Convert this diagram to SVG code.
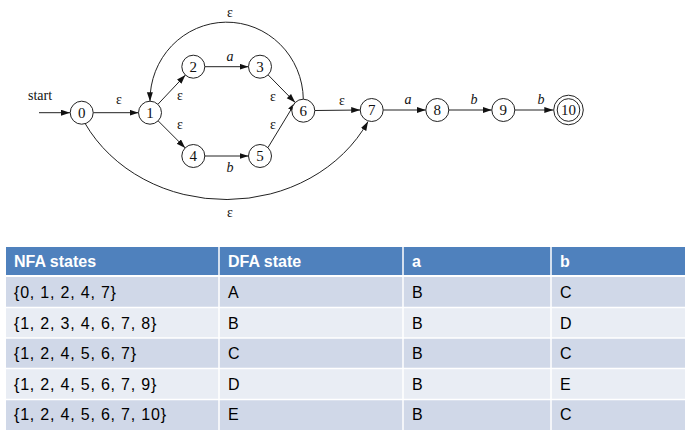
<svg xmlns="http://www.w3.org/2000/svg" width="691" height="441" viewBox="0 0 691 441">
<style>
.n{fill:#fff;stroke:#222;stroke-width:1}
.e{fill:none;stroke:#222;stroke-width:1}
.nl{font-family:"Liberation Serif",serif;font-size:15px;fill:#111;text-anchor:middle}
.el{font-family:"Liberation Serif",serif;font-size:14px;fill:#111;text-anchor:middle}
.it{font-style:italic}
.hd{fill:#4F81BD}
.r1{fill:#D0D8E8}
.r2{fill:#E9EDF4}
.th{font-family:"Liberation Sans",Arial,sans-serif;font-size:16px;font-weight:bold;fill:#fff}
.td{font-family:"Liberation Sans",Arial,sans-serif;font-size:16px;fill:#000;letter-spacing:0.8px}
.sep{stroke:#fff;stroke-width:1.5}
</style>
<defs>
<marker id="ah" markerUnits="userSpaceOnUse" markerWidth="10" markerHeight="7" refX="9" refY="3" orient="auto">
<path d="M0,0 L9,3 L0,6 z" fill="#111"/>
</marker>
</defs>
<rect width="691" height="441" fill="#fff"/>
<g id="connectors">
<path class="e" d="M39,112.7 L70,112.7" marker-end="url(#ah)"/>
<path class="e" d="M93.2,112.7 L138.5,112.7" marker-end="url(#ah)"/>
<path class="e" d="M157.9,104.3 L185.4,75.1" marker-end="url(#ah)"/>
<path class="e" d="M158.1,120.8 L185.2,147.9" marker-end="url(#ah)"/>
<path class="e" d="M204.8,66.7 L248.5,66.7" marker-end="url(#ah)"/>
<path class="e" d="M204.8,156 L248.5,156" marker-end="url(#ah)"/>
<path class="e" d="M268.1,74.9 L295.2,102.5" marker-end="url(#ah)"/>
<path class="e" d="M267.9,147.7 L295.4,102.4" marker-end="url(#ah)"/>
<path class="e" d="M314.8,110.5 L360.2,110" marker-end="url(#ah)"/>
<path class="e" d="M383.2,110 L425.8,110" marker-end="url(#ah)"/>
<path class="e" d="M448.8,110 L491.8,110" marker-end="url(#ah)"/>
<path class="e" d="M514.8,110 L553.3,110" marker-end="url(#ah)"/>
<path class="e" d="M303.3,99.2 A76.6 78 0 0 0 150,101.2" marker-end="url(#ah)"/>
<path class="e" d="M85,123.3 A158.4 140 0 0 0 368,121.6" marker-end="url(#ah)"/>
<text class="el" x="28" y="99.5" style="text-anchor:start">start</text>
<text class="el" x="119" y="104">ε</text>
<text class="el" x="180" y="100">ε</text>
<text class="el" x="180" y="129">ε</text>
<text class="el it" x="230" y="61">a</text>
<text class="el" x="273" y="101">ε</text>
<text class="el" x="273" y="129">ε</text>
<text class="el it" x="230" y="172">b</text>
<text class="el" x="230" y="17">ε</text>
<text class="el" x="230" y="217">ε</text>
<text class="el" x="342" y="105">ε</text>
<text class="el it" x="408" y="104">a</text>
<text class="el it" x="474" y="104">b</text>
<text class="el it" x="541" y="104">b</text>
</g>
<g id="node0"><circle class="n" cx="81.7" cy="112.7" r="11.5"/><text class="nl" x="81.7" y="118">0</text></g>
<g id="node1"><circle class="n" cx="150" cy="112.7" r="11.5"/><text class="nl" x="150" y="118">1</text></g>
<g id="node2"><circle class="n" cx="193.3" cy="66.7" r="11.5"/><text class="nl" x="193.3" y="72">2</text></g>
<g id="node3"><circle class="n" cx="260" cy="66.7" r="11.5"/><text class="nl" x="260" y="72">3</text></g>
<g id="node4"><circle class="n" cx="193.3" cy="156" r="11.5"/><text class="nl" x="193.3" y="161.3">4</text></g>
<g id="node5"><circle class="n" cx="260" cy="156" r="11.5"/><text class="nl" x="260" y="161.3">5</text></g>
<g id="node6"><circle class="n" cx="303.3" cy="110.7" r="11.5"/><text class="nl" x="303.3" y="116">6</text></g>
<g id="node7"><circle class="n" cx="371.7" cy="110" r="11.5"/><text class="nl" x="371.7" y="115.3">7</text></g>
<g id="node8"><circle class="n" cx="437.3" cy="110" r="11.5"/><text class="nl" x="437.3" y="115.3">8</text></g>
<g id="node9"><circle class="n" cx="503.3" cy="110" r="11.5"/><text class="nl" x="503.3" y="115.3">9</text></g>
<g id="node10"><circle class="n" cx="568.5" cy="110" r="14.8"/><circle class="n" cx="568.5" cy="110" r="11.3"/><text class="nl" x="568.5" y="115.3">10</text></g>
<g id="table">
<rect class="hd" x="6" y="247" width="679" height="28"/>
<rect class="r1" x="6" y="277" width="679" height="30.5"/>
<rect class="r2" x="6" y="307.5" width="679" height="30.5"/>
<rect class="r1" x="6" y="338" width="679" height="30.5"/>
<rect class="r2" x="6" y="368.5" width="679" height="31"/>
<rect class="r1" x="6" y="399.5" width="679" height="30.5"/>
<line class="sep" x1="6" y1="276" x2="685" y2="276" style="stroke-width:2"/>
<line class="sep" x1="6" y1="307.5" x2="685" y2="307.5"/>
<line class="sep" x1="6" y1="338" x2="685" y2="338"/>
<line class="sep" x1="6" y1="368.5" x2="685" y2="368.5"/>
<line class="sep" x1="6" y1="399.5" x2="685" y2="399.5"/>
<line class="sep" x1="219" y1="247" x2="219" y2="430"/>
<line class="sep" x1="403" y1="247" x2="403" y2="430"/>
<line class="sep" x1="551" y1="247" x2="551" y2="430"/>
<text class="th" x="14" y="267">NFA states</text>
<text class="th" x="228" y="267">DFA state</text>
<text class="th" x="412" y="267">a</text>
<text class="th" x="560" y="267">b</text>
<text class="td" x="14" y="298">{0, 1, 2, 4, 7}</text>
<text class="td" x="228" y="298">A</text>
<text class="td" x="412" y="298">B</text>
<text class="td" x="560" y="298">C</text>
<text class="td" x="14" y="329">{1, 2, 3, 4, 6, 7, 8}</text>
<text class="td" x="228" y="329">B</text>
<text class="td" x="412" y="329">B</text>
<text class="td" x="560" y="329">D</text>
<text class="td" x="14" y="359">{1, 2, 4, 5, 6, 7}</text>
<text class="td" x="228" y="359">C</text>
<text class="td" x="412" y="359">B</text>
<text class="td" x="560" y="359">C</text>
<text class="td" x="14" y="390">{1, 2, 4, 5, 6, 7, 9}</text>
<text class="td" x="228" y="390">D</text>
<text class="td" x="412" y="390">B</text>
<text class="td" x="560" y="390">E</text>
<text class="td" x="14" y="420">{1, 2, 4, 5, 6, 7, 10}</text>
<text class="td" x="228" y="420">E</text>
<text class="td" x="412" y="420">B</text>
<text class="td" x="560" y="420">C</text>
</g>
</svg>
